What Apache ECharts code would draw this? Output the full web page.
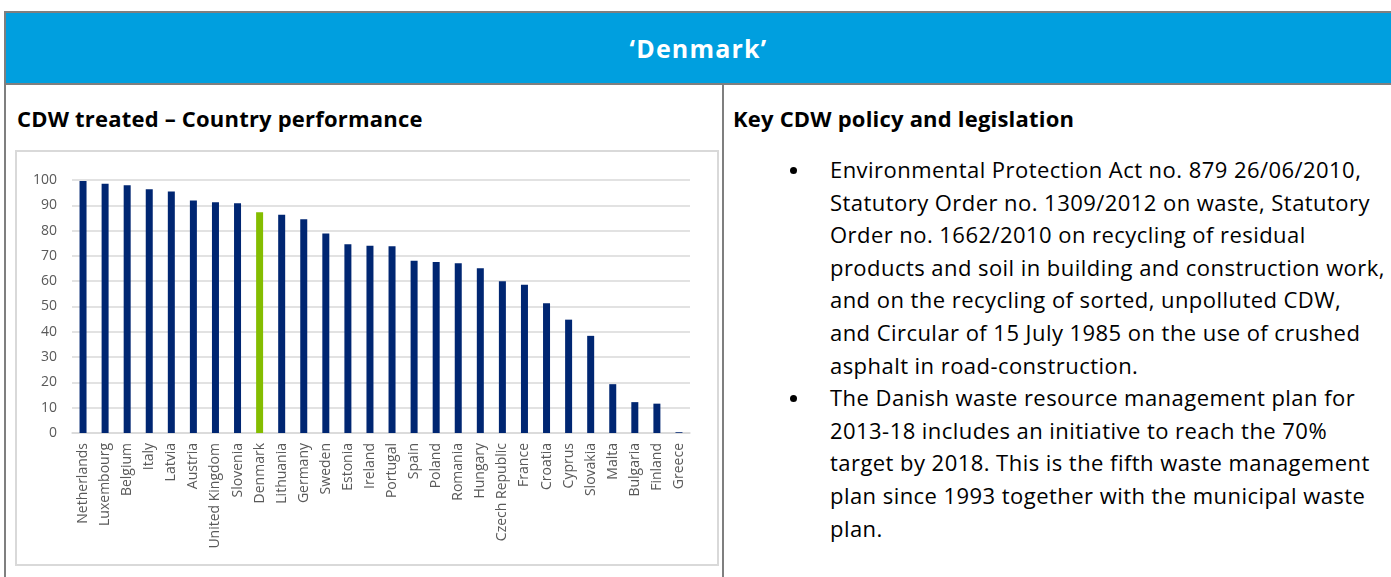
<!DOCTYPE html>
<html>
<head>
<meta charset="utf-8">
<script src="https://cdn.jsdelivr.net/npm/echarts@6/dist/echarts.min.js"></script>
<style>
  html, body { margin: 0; padding: 0; background: #fff; }
  body { width: 1391px; height: 577px; position: relative; overflow: hidden; font-family: "Open Sans", sans-serif; }
  .frame-top { position: absolute; left: 4px; top: 11px; width: 1387px; height: 2px; background: #7f7f7f; }
  .frame-left { position: absolute; left: 4px; top: 11px; width: 2px; height: 566px; background: #7f7f7f; }
  .header { position: absolute; left: 6px; top: 13px; width: 1385px; height: 70px; background: #009fdf;
    color: #fff; font-weight: bold; font-size: 25px; letter-spacing: 1.2px; text-align: center; line-height: 70px; }
  .header-line { position: absolute; left: 4px; top: 83px; width: 1387px; height: 2px; background: #7f7f7f; }
  .divider { position: absolute; left: 722px; top: 85px; width: 2px; height: 492px; background: #7f7f7f; }
  .heading { position: absolute; top: 103px; font-weight: bold; font-size: 22px; letter-spacing: 0.2px; color: #000; white-space: nowrap; }
  .bullets { position: absolute; left: 787px; top: 153px; font-size: 22px; letter-spacing: 0.45px; line-height: 32.6px; color: #000; white-space: nowrap; }
  .bullet { position: relative; padding-left: 43px; }
  .bullet:before { content: ""; position: absolute; left: 3px; top: 14px; width: 7px; height: 7px; border-radius: 50%; background: #000; }
  #chartOne { position: absolute; left: 15px; top: 150px; width: 700px; height: 412px; border: 2px solid #d9d9d9; }
</style>
</head>
<body>
<div class="frame-top"></div>
<div class="frame-left"></div>
<div class="header">‘Denmark’</div>
<div class="header-line"></div>
<div class="divider"></div>
<div class="heading" style="left: 17px">CDW treated – Country performance</div>
<div class="heading" style="left: 733px">Key CDW policy and legislation</div>
<div class="bullets">
  <div class="bullet">Environmental Protection Act no. 879 26/06/2010,<br>Statutory Order no. 1309/2012 on waste, Statutory<br>Order no. 1662/2010 on recycling of residual<br>products and soil in building and construction work,<br>and on the recycling of sorted, unpolluted CDW,<br>and Circular of 15 July 1985 on the use of crushed<br>asphalt in road-construction.</div>
  <div class="bullet">The Danish waste resource management plan for<br>2013-18 includes an initiative to reach the 70%<br>target by 2018. This is the fifth waste management<br>plan since 1993 together with the municipal waste<br>plan.</div>
</div>
<div id="chartOne"></div>
<script>
  // CDW treated, % by country
  var countries = ['Netherlands', 'Luxembourg', 'Belgium', 'Italy', 'Latvia', 'Austria', 'United Kingdom', 'Slovenia',
    'Denmark', 'Lithuania', 'Germany', 'Sweden', 'Estonia', 'Ireland', 'Portugal', 'Spain', 'Poland', 'Romania',
    'Hungary', 'Czech Republic', 'France', 'Croatia', 'Cyprus', 'Slovakia', 'Malta', 'Bulgaria', 'Finland', 'Greece']
  var treated = [99.6, 98.5, 97.9, 96.3, 95.5, 91.9, 91.2, 90.8, 87.3, 86.3, 84.5, 78.9, 74.6, 74.0, 73.8,
    68.1, 67.6, 67.1, 65.1, 60.0, 58.6, 51.3, 44.8, 38.4, 19.3, 12.2, 11.6, 0.3]
  var highlight = 'Denmark'

  var myChartOne = echarts.init(document.getElementById('chartOne'))
  myChartOne.setOption({
    animation: false,
    grid: {
      left: 55,
      right: 27,
      top: 28,
      bottom: 131
    },
    xAxis: {
      type: 'category',
      data: countries,
      axisLine: {
        lineStyle: { color: '#d9d9d9', width: 1.5 }
      },
      axisTick: { show: false },
      axisLabel: {
        rotate: 90,
        interval: 0,
        margin: 10,
        color: '#595959',
        fontSize: 14,
        fontFamily: 'Open Sans'
      }
    },
    yAxis: {
      type: 'value',
      min: 0,
      max: 100,
      interval: 10,
      axisLine: { show: false },
      axisTick: { show: false },
      splitLine: {
        lineStyle: { color: '#d9d9d9', width: 1.5 }
      },
      axisLabel: {
        margin: 15,
        color: '#595959',
        fontSize: 14,
        fontFamily: 'Open Sans'
      }
    },
    series: [
      {
        type: 'bar',
        barWidth: 7,
        data: treated.map(function (v, i) {
          return {
            value: v,
            itemStyle: { color: countries[i] === highlight ? '#84bd00' : '#002672' }
          }
        })
      }
    ]
  })
</script>
</body>
</html>
